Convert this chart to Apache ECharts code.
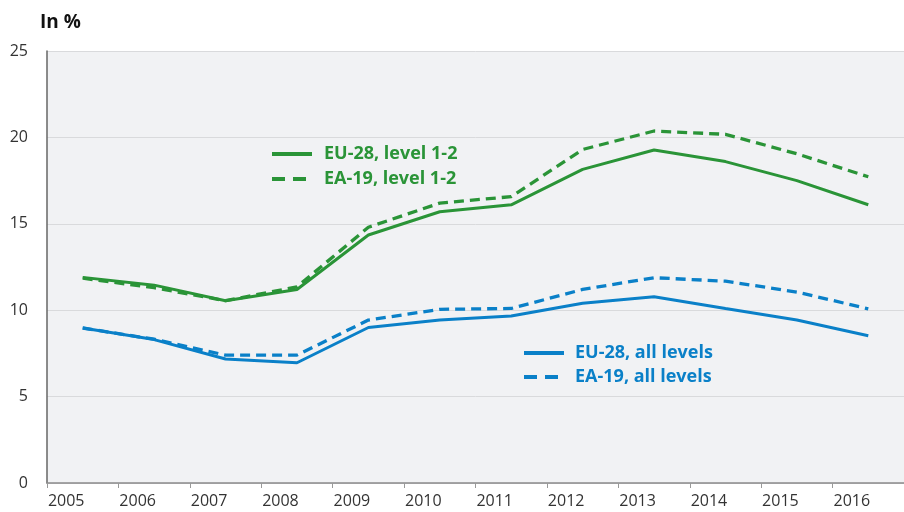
<!DOCTYPE html>
<html>
<head>
<meta charset="utf-8">
<script src="https://cdn.jsdelivr.net/npm/echarts@6/dist/echarts.min.js"></script>
<style>html,body{margin:0;padding:0;background:#fff}#c{width:904px;height:512px}</style>
</head>
<body>
<div id="c"></div>
<script>
const years = ['2005','2006','2007','2008','2009','2010','2011','2012','2013','2014','2015','2016'];
const eu28Level12 = [11.9, 11.45, 10.55, 11.2, 14.35, 15.7, 16.1, 18.15, 19.27, 18.6, 17.5, 16.1];
const ea19Level12 = [11.85, 11.3, 10.55, 11.35, 14.8, 16.2, 16.57, 19.3, 20.37, 20.18, 19.05, 17.72];
const eu28All = [8.97, 8.3, 7.18, 6.96, 9.0, 9.43, 9.66, 10.4, 10.78, 10.1, 9.43, 8.52];
const ea19All = [8.97, 8.32, 7.4, 7.4, 9.43, 10.05, 10.1, 11.2, 11.88, 11.68, 11.05, 10.08];
const yTicks = [0, 5, 10, 15, 20, 25];

const GREEN = '#2a9437';
const BLUE = '#0a80c8';
const FONT = 'Open Sans';

const chart = echarts.init(document.getElementById('c'), null, {renderer: 'canvas'});
const mk = (name, data, color, dashed) => ({
  name, type: 'line', data, symbol: 'none', smooth: false,
  lineStyle: {color, width: dashed ? 3.3 : 3, type: dashed ? [10, 6] : 'solid', cap: 'butt'},
  itemStyle: {color},
  emphasis: {disabled: true}, animation: false
});
const legendBase = {orient: 'vertical', itemWidth: 40, itemHeight: 14, selectedMode: false, padding: 0,
  itemStyle: {opacity: 0}, lineStyle: {width: 4}};
const dashIcon = {type: [13, 8]};
chart.setOption({
  animation: false,
  textStyle: {fontFamily: FONT},
  title: {text: 'In %', left: 35, top: 8, textStyle: {fontFamily: FONT, fontSize: 19, fontWeight: 'bold', color: '#111'}},
  grid: {left: 47, top: 51, right: -11, bottom: 29, show: true, backgroundColor: '#f1f2f4', borderWidth: 0, containLabel: false},
  legend: [
    Object.assign({}, legendBase, {data: ['EU-28, level 1-2', {name: 'EA-19, level 1-2', lineStyle: dashIcon}], left: 270, top: 145, itemGap: 7,
     textStyle: {fontFamily: FONT, fontSize: 18, fontWeight: 'bold', color: GREEN, padding: [0, 0, 0, 7]}}),
    Object.assign({}, legendBase, {data: ['EU-28, all levels', {name: 'EA-19, all levels', lineStyle: dashIcon}], left: 522, top: 344, itemGap: 6,
     textStyle: {fontFamily: FONT, fontSize: 18, fontWeight: 'bold', color: BLUE, padding: [0, 0, 0, 6]}})
  ],
  xAxis: {
    type: 'category', data: years, boundaryGap: true,
    axisLine: {lineStyle: {color: '#8a8a8a', width: 1.5}},
    axisTick: {show: true, length: 5, lineStyle: {color: '#999'}},
    axisLabel: {fontFamily: FONT, fontSize: 16, color: '#333', margin: 10, padding: [0, 33, 0, 0]},
    splitLine: {show: false}
  },
  yAxis: {
    type: 'value', min: yTicks[0], max: yTicks[yTicks.length - 1], interval: 5,
    axisLine: {show: true, lineStyle: {color: '#666', width: 1.5}},
    axisTick: {show: false},
    axisLabel: {fontFamily: FONT, fontSize: 16, color: '#333', margin: 19},
    splitLine: {lineStyle: {color: '#d9dadc', width: 1}}
  },
  series: [
    mk('EU-28, level 1-2', eu28Level12, GREEN, false),
    mk('EA-19, level 1-2', ea19Level12, GREEN, true),
    mk('EU-28, all levels', eu28All, BLUE, false),
    mk('EA-19, all levels', ea19All, BLUE, true)
  ]
});
</script>
</body>
</html>
